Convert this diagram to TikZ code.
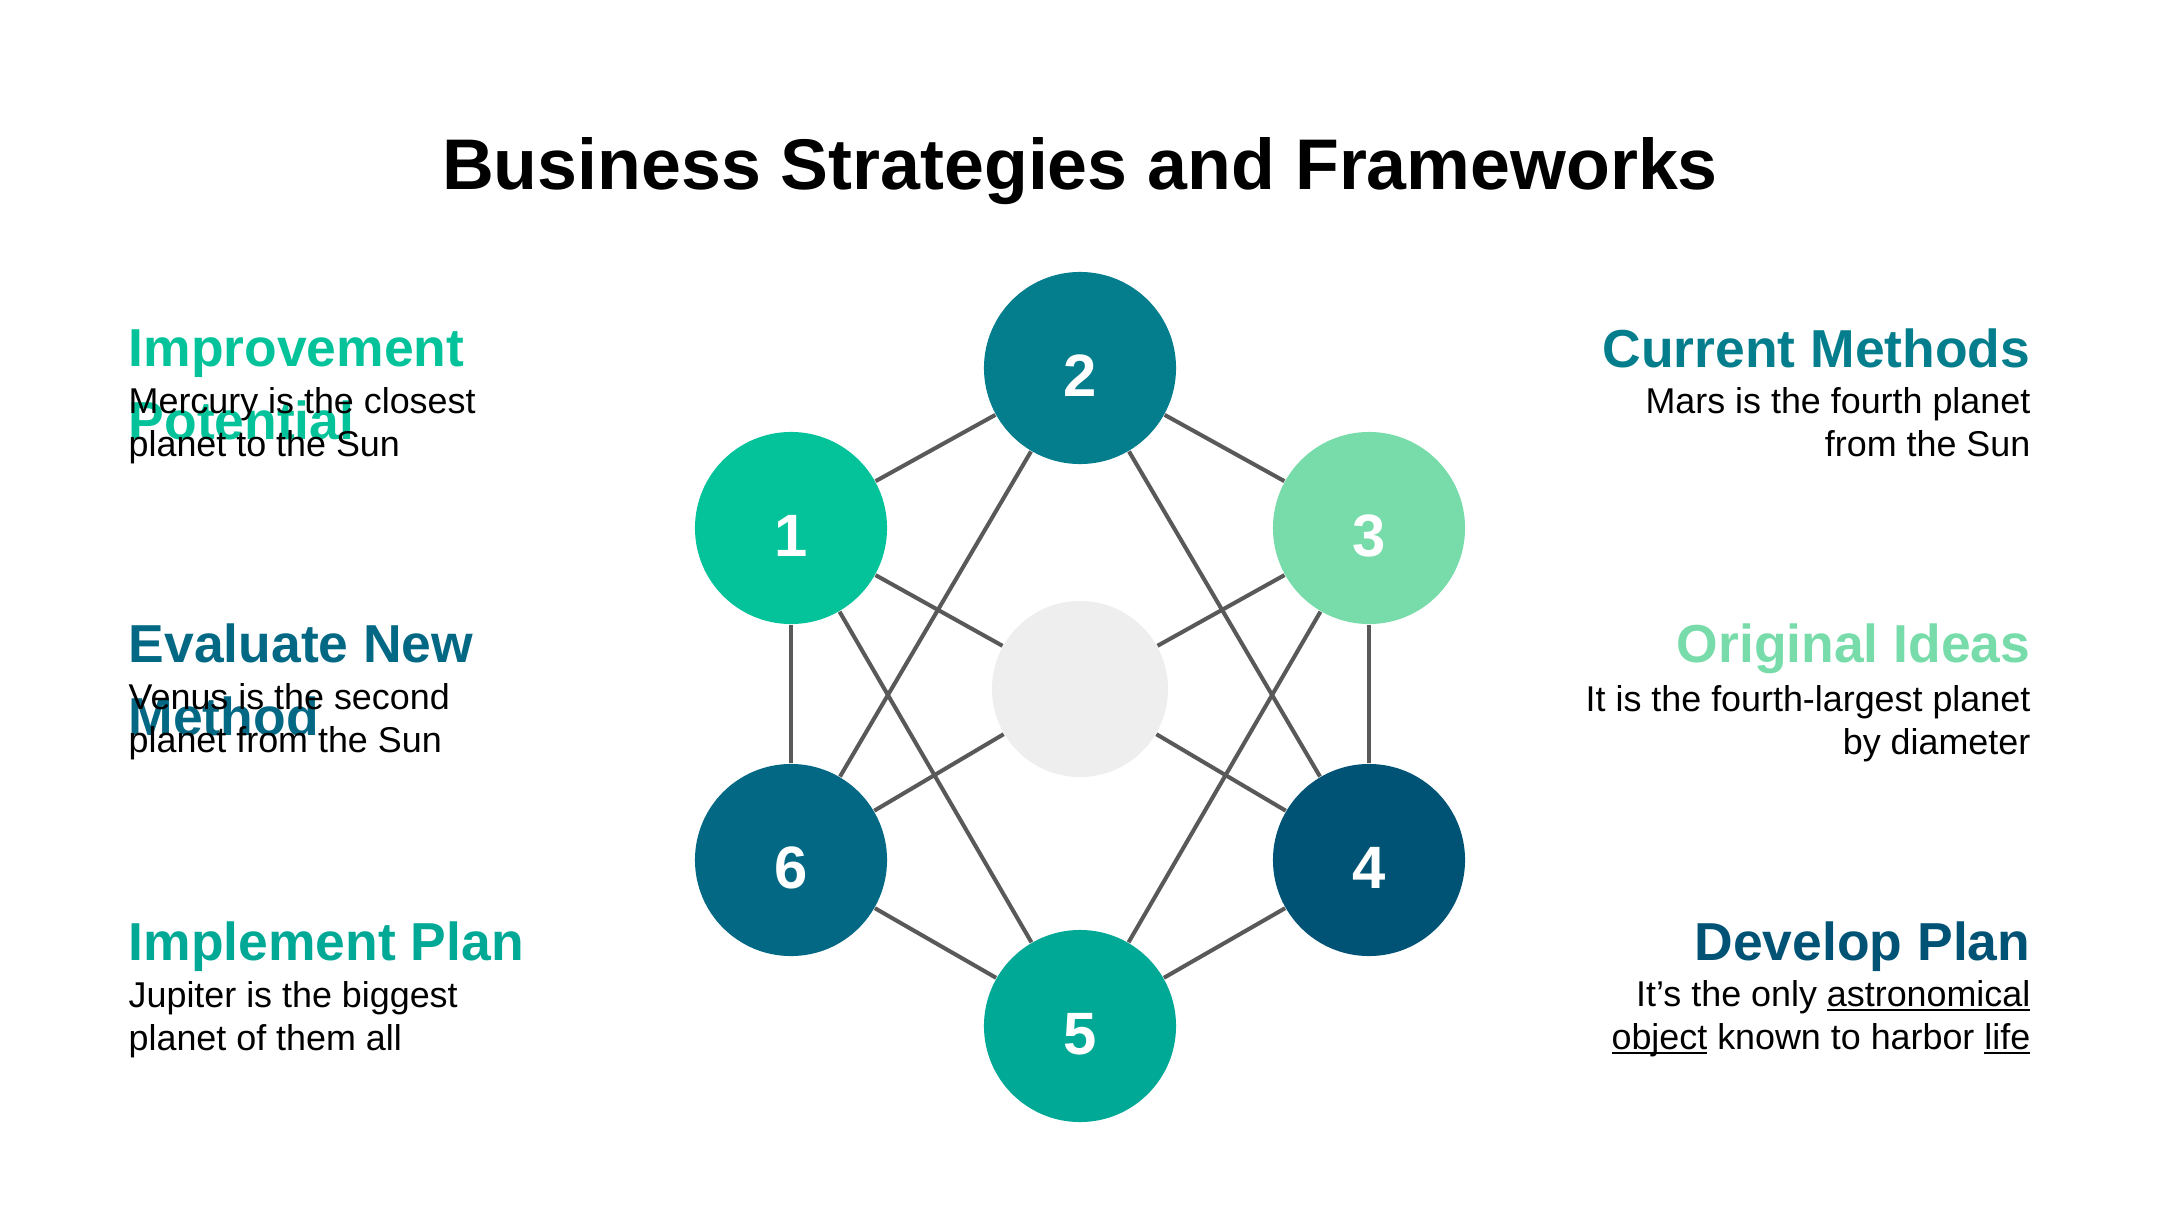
\documentclass[tikz,border=0pt]{standalone}
\usepackage{fontspec}
\setmainfont{Liberation Sans}
\definecolor{cone}{HTML}{04C39A}
\definecolor{ctwo}{HTML}{047E8C}
\definecolor{cthree}{HTML}{78DCAA}
\definecolor{cfour}{HTML}{005375}
\definecolor{cfive}{HTML}{00A896}
\definecolor{csix}{HTML}{036884}
\definecolor{linkgray}{HTML}{595959}
\definecolor{hubgray}{HTML}{EEEEEE}
\newsavebox\myulbox
\newcommand\myul[1]{\sbox\myulbox{#1}\rlap{\rule[-1.4pt]{\wd\myulbox}{0.55pt}}\usebox\myulbox}
\begin{document}
\begin{tikzpicture}[x=0.01cm,y=-0.01cm,
  bub/.style={circle, minimum size=1.92cm, inner sep=0pt, text=white,
    font=\fontsize{17pt}{17pt}\selectfont\bfseries, text height=0.6cm, text depth=0.03cm},
  hub/.style={circle, minimum size=1.76cm, inner sep=0pt, fill=hubgray},
  link/.style={draw=linkgray, line width=1.15pt},
  headL/.style={anchor=base west, inner sep=0pt, align=left,
    font=\fontsize{15.2pt}{20.6pt}\selectfont\bfseries},
  headR/.style={anchor=base east, inner sep=0pt, align=right,
    font=\fontsize{15.2pt}{20.6pt}\selectfont\bfseries},
  bodyL/.style={anchor=base west, inner sep=0pt, align=left,
    font=\fontsize{10.2pt}{12.2pt}\selectfont},
  bodyR/.style={anchor=base east, inner sep=0pt, align=right,
    font=\fontsize{10.2pt}{12.2pt}\selectfont},
  titlestyle/.style={anchor=base, inner sep=0pt, font=\fontsize{20.4pt}{24pt}\selectfont\bfseries}
]
\useasboundingbox (0,0) rectangle (2160,1215);

\node[titlestyle] (title) at (1080,189) {Business Strategies and Frameworks};

% hub and circles
\node[hub] (c) at (1080,689) {};
\node[bub, fill=cone] (n1) at (791,528) {1};
\node[bub, fill=ctwo] (n2) at (1080,368) {2};
\node[bub, fill=cthree] (n3) at (1369,528) {3};
\node[bub, fill=cfour] (n4) at (1369,860) {4};
\node[bub, fill=cfive] (n5) at (1080,1026) {5};
\node[bub, fill=csix] (n6) at (791,860) {6};

% connectors
\draw[link] (n1) -- (n2);
\draw[link] (n2) -- (n3);
\draw[link] (n3) -- (n4);
\draw[link] (n4) -- (n5);
\draw[link] (n5) -- (n6);
\draw[link] (n6) -- (n1);
\draw[link] (n1) -- (n5);
\draw[link] (n2) -- (n6);
\draw[link] (n2) -- (n4);
\draw[link] (n3) -- (n5);
\draw[link] (n1) -- (c);
\draw[link] (n3) -- (c);
\draw[link] (n4) -- (c);
\draw[link] (n6) -- (c);

% left texts (base anchor = baseline of last line)
\node[headL, text=cone] (h1) at (128,439) {Improvement\\Potential};
\node[bodyL] (b1) at (128,456) {Mercury is the closest\\planet to the Sun};
\node[headL, text=csix] (h2) at (128,735) {Evaluate New\\Method};
\node[bodyL] (b2) at (128,752) {Venus is the second\\planet from the Sun};
\node[headL, text=cfive] (h3) at (128,960) {Implement Plan};
\node[bodyL] (b3) at (128,1050) {Jupiter is the biggest\\planet of them all};

% right texts
\node[headR, text=ctwo] (h4) at (2031,367) {Current Methods};
\node[bodyR] (b4) at (2031,456) {Mars is the fourth planet\\from the Sun};
\node[headR, text=cthree] (h5) at (2031,662) {Original Ideas};
\node[bodyR] (b5) at (2031,754) {It is the fourth-largest planet\\by diameter};
\node[headR, text=cfour] (h6) at (2031,960) {Develop Plan};
\node[bodyR] (b6) at (2031,1049) {It’s the only \myul{astronomical}\\\myul{object} known to harbor \myul{life}};
\end{tikzpicture}
\end{document}
